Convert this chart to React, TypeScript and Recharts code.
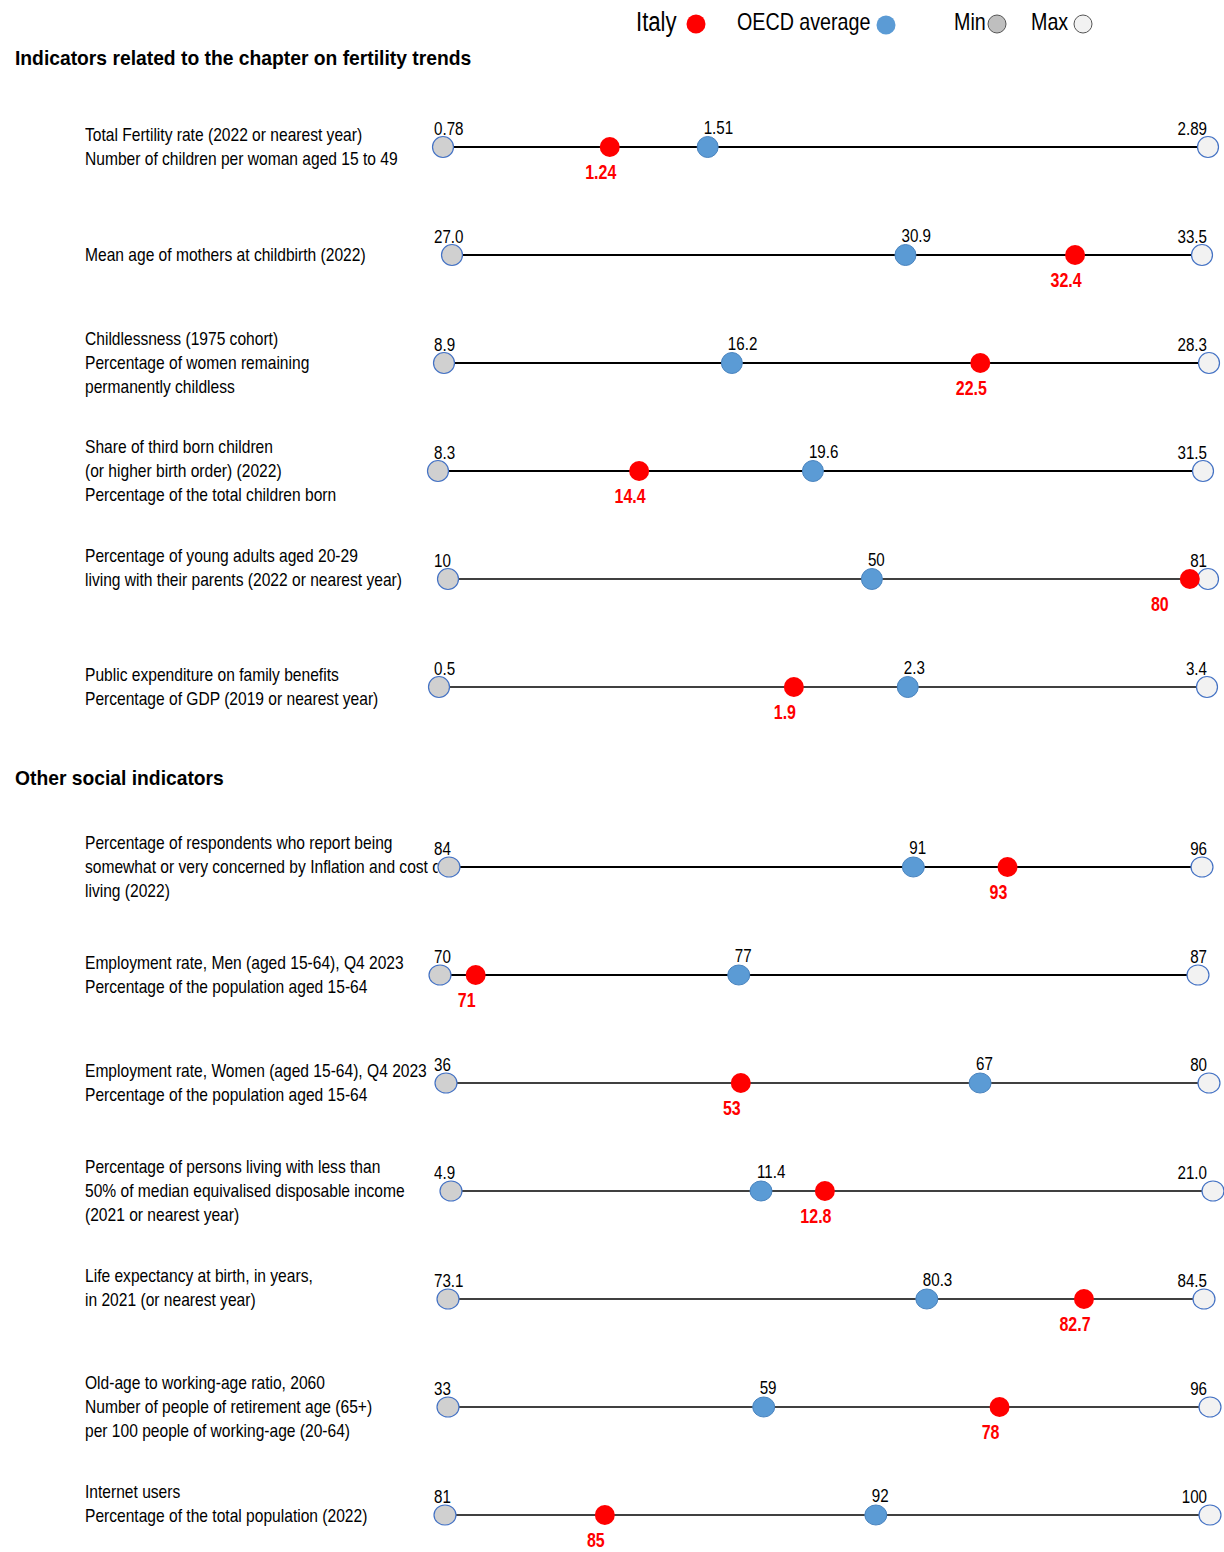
import React from "react";
import {
  ScatterChart,
  Scatter,
  XAxis,
  YAxis,
  ReferenceLine,
} from "recharts";

// ---- data ----
const indicatorLabels: string[][] = [
  ["Total Fertility rate (2022 or nearest year)", "Number of children per woman aged 15 to 49"],
  ["Mean age of mothers at childbirth (2022)"],
  ["Childlessness (1975 cohort)", "Percentage of women remaining", "permanently childless"],
  ["Share of third born children", "(or higher birth order) (2022)", "Percentage of the total children born"],
  ["Percentage of young adults aged 20-29", "living with their parents (2022 or nearest year)"],
  ["Public expenditure on family benefits", "Percentage of GDP (2019 or nearest year)"],
  [
    "Percentage of respondents who report being",
    "somewhat or very concerned by Inflation and cost of",
    "living (2022)",
  ],
  ["Employment rate, Men (aged 15-64), Q4 2023", "Percentage of the population aged 15-64"],
  ["Employment rate, Women (aged 15-64), Q4 2023", "Percentage of the population aged 15-64"],
  [
    "Percentage of persons living with less than",
    "50% of median equivalised disposable income",
    "(2021 or nearest year)",
  ],
  ["Life expectancy at birth, in years,", "in 2021 (or nearest year)"],
  [
    "Old-age to working-age ratio, 2060",
    "Number of people of retirement age (65+)",
    "per 100 people of working-age (20-64)",
  ],
  ["Internet users", "Percentage of the total population (2022)"],
];

const sectionTitles = ["Indicators related to the chapter on fertility trends", "Other social indicators"];

const minValues = [0.78, 27.0, 8.9, 8.3, 10, 0.5, 84, 70, 36, 4.9, 73.1, 33, 81];
const maxValues = [2.89, 33.5, 28.3, 31.5, 81, 3.4, 96, 87, 80, 21.0, 84.5, 96, 100];
const oecdValues = [1.51, 30.93, 16.2, 19.67, 49.6, 2.27, 91.4, 76.7, 66.8, 11.45, 80.32, 59.1, 91.7];
const italyValues = [1.24, 32.4, 22.5, 14.4, 79.3, 1.84, 92.9, 70.8, 53.0, 12.8, 82.69, 78.6, 84.97];

const minLabels = ["0.78", "27.0", "8.9", "8.3", "10", "0.5", "84", "70", "36", "4.9", "73.1", "33", "81"];
const maxLabels = ["2.89", "33.5", "28.3", "31.5", "81", "3.4", "96", "87", "80", "21.0", "84.5", "96", "100"];
const oecdLabels = ["1.51", "30.9", "16.2", "19.6", "50", "2.3", "91", "77", "67", "11.4", "80.3", "59", "92"];
const italyLabels = ["1.24", "32.4", "22.5", "14.4", "80", "1.9", "93", "71", "53", "12.8", "82.7", "78", "85"];

// ---- layout ----
const rowCenterY = [147, 255, 363, 471, 579, 687, 867, 975, 1083, 1191, 1299, 1407, 1515];
const rowStartPx = [443, 452, 444, 438, 448, 439, 449, 440, 446, 451, 448, 448, 445];
const rowEndPx = [1208, 1202, 1209, 1203, 1208, 1207, 1202, 1198, 1209, 1213, 1204, 1210, 1210];
const lineWidths = [2, 2, 2, 2, 1.3, 1.3, 2, 2, 1.3, 1.3, 1.3, 1.3, 1.6];
const labelShiftY = [0, 0, 0, 0, -11, 0, 0, 0, 0, 0, -11, 0, -11];
const italyLabelShift = [0, 0, 0, 0, -21, 0, 0, 0, 0, 0, 0, 0, 0];
const sectionTitleY = [58, 778];

// Arial Narrow is not installed: Liberation Sans squeezed horizontally stands in for it
const FONT = "'Liberation Sans', Arial, sans-serif";
const NARROW = 0.82;
const W = 1224;
const ROW_H = 80;
const MIN_LABEL_LEFT = 434;
const MAX_LABEL_RIGHT = 1207;

const RED = "#FF0000";
const BLUE = "#5B9BD5";
const OUTLINE = "#4472C4";
const MIN_FILL = "#D0D0D0";
const MAX_FILL = "#F2F2F2";

type Kind = "min" | "max" | "oecd" | "italy";

const NarrowText: React.FC<{
  x: number;
  y: number;
  anchor: "start" | "middle" | "end";
  fill: string;
  size: number;
  bold?: boolean;
  children: React.ReactNode;
}> = ({ x, y, anchor, fill, size, bold, children }) => (
  <text
    transform={`translate(${x} ${y}) scale(${NARROW} 1)`}
    textAnchor={anchor}
    fill={fill}
    style={{ fontFamily: FONT, fontSize: size, fontWeight: bold ? 700 : 400 }}
  >
    {children}
  </text>
);

const makeShape = (kind: Kind, row: number) => (props: any) => {
  const { cx, cy } = props;
  const wide = row >= 6;
  const rx = wide ? 11 : 10.5;
  const ry = wide ? 10 : 10.5;
  if (kind === "italy") {
    return (
      <g>
        <ellipse cx={cx} cy={cy} rx={10} ry={10} fill={RED} />
        <NarrowText x={cx - 9 + italyLabelShift[row]} y={cy + 32} anchor="middle" fill={RED} size={19.5} bold>
          {italyLabels[row]}
        </NarrowText>
      </g>
    );
  }
  if (kind === "oecd") {
    return (
      <g>
        <ellipse cx={cx} cy={cy} rx={rx} ry={ry} fill={BLUE} stroke="#4A84BF" strokeWidth={1} />
        <NarrowText x={cx - 4} y={cy - 13} anchor="start" fill="#000" size={18.5}>
          {oecdLabels[row]}
        </NarrowText>
      </g>
    );
  }
  const isMin = kind === "min";
  return (
    <g>
      <ellipse
        cx={cx}
        cy={cy}
        rx={rx}
        ry={ry}
        fill={isMin ? MIN_FILL : MAX_FILL}
        stroke={OUTLINE}
        strokeWidth={1.2}
      />
      <NarrowText
        x={isMin ? MIN_LABEL_LEFT : MAX_LABEL_RIGHT}
        y={cy - 12}
        anchor={isMin ? "start" : "end"}
        fill="#000"
        size={18.5}
      >
        {isMin ? minLabels[row] : maxLabels[row]}
      </NarrowText>
    </g>
  );
};

const narrowBox = (left: number, top: number, squeeze = NARROW): React.CSSProperties => ({
  position: "absolute",
  left,
  top,
  transform: `scaleX(${squeeze})`,
  transformOrigin: "0 0",
  whiteSpace: "nowrap",
  fontFamily: FONT,
  color: "#000",
});

const IndicatorRow: React.FC<{ row: number }> = ({ row }) => {
  const lines = indicatorLabels[row];
  const cy = rowCenterY[row];
  const pt = (v: number) => [{ x: v, y: 0.5 }];
  return (
    <>
      <div
        style={{
          ...narrowBox(85, cy - lines.length * 12 + labelShiftY[row]),
          width: 353 / NARROW,
          overflow: "hidden",
          fontSize: 19,
          lineHeight: "24px",
        }}
      >
        {lines.map((l, i) => (
          <div key={i}>{l}</div>
        ))}
      </div>
      <div style={{ position: "absolute", left: 0, top: cy - ROW_H / 2 }}>
        <ScatterChart
          width={W}
          height={ROW_H}
          margin={{ top: 0, bottom: 0, left: rowStartPx[row], right: W - rowEndPx[row] }}
        >
          <XAxis type="number" dataKey="x" domain={[minValues[row], maxValues[row]]} hide />
          <YAxis type="number" dataKey="y" domain={[0, 1]} hide />
          <ReferenceLine y={0.5} stroke="#000" strokeWidth={lineWidths[row]} />
          <Scatter data={pt(minValues[row])} shape={makeShape("min", row)} isAnimationActive={false} />
          <Scatter data={pt(maxValues[row])} shape={makeShape("max", row)} isAnimationActive={false} />
          <Scatter data={pt(oecdValues[row])} shape={makeShape("oecd", row)} isAnimationActive={false} />
          <Scatter data={pt(italyValues[row])} shape={makeShape("italy", row)} isAnimationActive={false} />
        </ScatterChart>
      </div>
    </>
  );
};

const Legend: React.FC = () => {
  const item = (left: number, text: string, size: number) => (
    <div style={{ ...narrowBox(left, 22 - size * 0.6), fontSize: size, lineHeight: `${size * 1.2}px` }}>
      {text}
    </div>
  );
  return (
    <>
      {item(636, "Italy", 27)}
      {item(737, "OECD average", 24)}
      {item(954, "Min", 24)}
      {item(1031, "Max", 24)}
      <svg style={{ position: "absolute", left: 0, top: 0 }} width={W} height={45}>
        <circle cx={696} cy={24} r={9.5} fill={RED} />
        <circle cx={886} cy={25} r={9.5} fill={BLUE} />
        <circle cx={997} cy={24} r={9} fill="#BFBFBF" stroke="#555" strokeWidth={1} />
        <circle cx={1083} cy={24} r={9} fill={MAX_FILL} stroke="#555" strokeWidth={1} />
      </svg>
    </>
  );
};

export default function App() {
  return (
    <div
      style={{
        position: "absolute",
        left: 0,
        top: 0,
        width: W,
        height: 1552,
        background: "#fff",
        overflow: "hidden",
      }}
    >
      <Legend />
      {sectionTitles.map((t, i) => (
        <div
          key={t}
          style={{
            ...narrowBox(15, sectionTitleY[i] - 12, 0.94),
            fontSize: 20.5,
            fontWeight: 700,
            lineHeight: "24px",
          }}
        >
          {t}
        </div>
      ))}
      {indicatorLabels.map((_, i) => (
        <IndicatorRow key={i} row={i} />
      ))}
    </div>
  );
}
